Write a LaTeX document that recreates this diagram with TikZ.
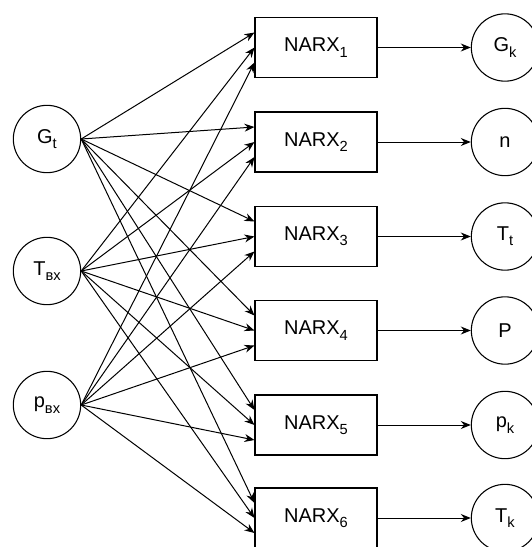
\documentclass[tikz,border=0pt]{standalone}
\usepackage{fontspec}
\setmainfont{Liberation Sans}
\usetikzlibrary{arrows.meta}

\newcommand{\lowsub}[1]{\raisebox{-0.5ex}{\fontsize{11}{13}\selectfont #1}}

\tikzset{
    var/.style={draw, circle, line width=0.8pt, minimum size=50.5pt, inner sep=0pt,
        font=\fontsize{15}{18}\selectfont},
    narx/.style={draw, rectangle, line width=0.8pt, minimum width=91.5pt, minimum height=45pt,
        inner sep=0pt, font=\fontsize{15}{18}\selectfont},
    link/.style={line width=0.75pt, -{Stealth[length=7.5pt,width=6pt]}}
}

\begin{document}
\begin{tikzpicture}[x=0.75pt, y=-0.75pt]
\useasboundingbox (0,0) rectangle (532,547);
\clip (0,0) rectangle (532,547);

% inputs
\node[var] (gt)  at (47,139) {G\lowsub{t}};
\node[var] (tvx) at (47,271) {T\lowsub{вх}};
\node[var] (pvx) at (47,405) {p\lowsub{вх}};

% NARX blocks
\node[narx] (narx1) at (316,47.5)  {NARX\lowsub{1}};
\node[narx] (narx2) at (316,142)   {NARX\lowsub{2}};
\node[narx] (narx3) at (316,236.5) {NARX\lowsub{3}};
\node[narx] (narx4) at (316,330.5) {NARX\lowsub{4}};
\node[narx] (narx5) at (316,425)   {NARX\lowsub{5}};
\node[narx] (narx6) at (316,518)   {NARX\lowsub{6}};

% outputs
\node[var] (gk) at (505,47.5)  {G\lowsub{k}};
\node[var] (n)  at (505,142)   {n};
\node[var] (tt) at (505,236.5) {T\lowsub{t}};
\node[var] (p)  at (505,330.5) {P};
\node[var] (pk) at (505,425)   {p\lowsub{k}};
\node[var] (tk) at (505,518)   {T\lowsub{k}};

% inputs -> NARX
\draw[link] (gt.east)  -- ([yshift=11.25pt]narx1.west);
\draw[link] (tvx.east) -- (narx1.west);
\draw[link] (pvx.east) -- ([yshift=-11.25pt]narx1.west);

\draw[link] (gt.east)  -- ([yshift=11.25pt]narx2.west);
\draw[link] (tvx.east) -- (narx2.west);
\draw[link] (pvx.east) -- ([yshift=-11.25pt]narx2.west);

\draw[link] (gt.east)  -- ([yshift=11.25pt]narx3.west);
\draw[link] (tvx.east) -- (narx3.west);
\draw[link] (pvx.east) -- ([yshift=-11.25pt]narx3.west);

\draw[link] (gt.east)  -- ([yshift=11.25pt]narx4.west);
\draw[link] (tvx.east) -- (narx4.west);
\draw[link] (pvx.east) -- ([yshift=-11.25pt]narx4.west);

\draw[link] (gt.east)  -- ([yshift=11.25pt]narx5.west);
\draw[link] (tvx.east) -- (narx5.west);
\draw[link] (pvx.east) -- ([yshift=-11.25pt]narx5.west);

\draw[link] (gt.east)  -- ([yshift=11.25pt]narx6.west);
\draw[link] (tvx.east) -- (narx6.west);
\draw[link] (pvx.east) -- ([yshift=-11.25pt]narx6.west);

% NARX -> outputs
\draw[link] (narx1.east) -- (gk.west);
\draw[link] (narx2.east) -- (n.west);
\draw[link] (narx3.east) -- (tt.west);
\draw[link] (narx4.east) -- (p.west);
\draw[link] (narx5.east) -- (pk.west);
\draw[link] (narx6.east) -- (tk.west);

\end{tikzpicture}
\end{document}
